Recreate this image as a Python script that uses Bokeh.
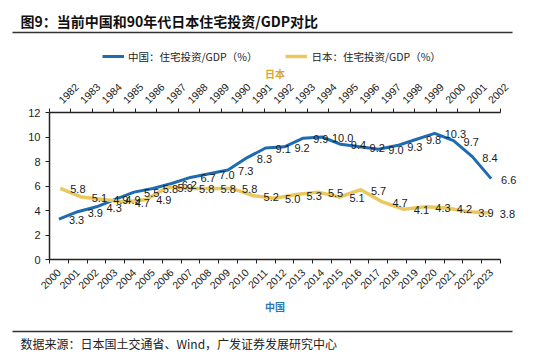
import math
from bokeh.plotting import figure
from bokeh.models import (Range1d, LinearAxis, FixedTicker, ColumnDataSource, Label,
                          LabelSet, BoxAnnotation, Legend, LegendItem)
from bokeh.core.properties import value
from bokeh.embed import file_html
from bokeh.resources import INLINE

# ---- data ----
china_years = [str(y) for y in range(2000, 2024)]
china_vals = [3.3, 3.9, 4.3, 4.9, 5.5, 5.8, 6.2, 6.7, 7.0, 7.3, 8.3, 9.1,
              9.2, 9.9, 10.0, 9.4, 9.2, 9.0, 9.3, 9.8, 10.3, 9.7, 8.4, 6.6]
japan_years = [str(y) for y in range(1982, 2003)]
japan_vals = [5.8, 5.1, 4.9, 4.7, 4.9, 5.9, 5.8, 5.8, 5.8, 5.2, 5.0, 5.3,
              5.5, 5.1, 5.7, 4.7, 4.1, 4.3, 4.2, 3.9, 3.8]
y_ticks = [0, 2, 4, 6, 8, 10, 12]
title_text = "图9：当前中国和90年代日本住宅投资/GDP对比"
china_name = "中国：住宅投资/GDP（%）"
japan_name = "日本：住宅投资/GDP（%）"
source_text = "数据来源：日本国土交通省、Wind，广发证券发展研究中心"

# ---- style ----
BLUE = "#1F6BB0"
GOLD = "#EBC85E"
GOLD_TXT = "#D9A62E"
BLUE_TXT = "#2E75B6"
AX = "#222222"
CJK = "Noto Sans CJK SC"
LAT = "Liberation Sans"

W, H = 550, 355
# plot-area edges in canvas pixels
PL, PR, PT, PB = 49, 500, 112, 259
Y0, Y1 = 0, 12

n_c = len(china_vals)
n_j = len(japan_vals)
cx = list(range(n_c))
jx = list(range(n_j))


def stretch(lo, hi, plo, phi, total):
    """range whose [lo, hi] maps onto pixels [plo, phi] of a canvas 0..total"""
    k = (hi - lo) / (phi - plo)
    return Range1d(lo - plo * k, hi + (total - phi) * k)


x_rng = stretch(-0.5, n_c - 0.5, PL, PR, W)
j_rng = stretch(-0.5, n_j - 0.5, PL, PR, W)
y_rng = stretch(Y0, Y1, H - PB, H - PT, H)

p = figure(width=W, height=H, output_backend="svg", toolbar_location=None,
           x_range=x_rng, y_range=y_rng,
           x_axis_location=None, y_axis_location=None, min_border=0)
p.extra_x_ranges = {"jp": j_rng}
p.outline_line_color = None
p.grid.visible = False
p.background_fill_color = "white"
p.border_fill_color = "white"

# left axis
yax = LinearAxis(ticker=FixedTicker(ticks=y_ticks), fixed_location=-0.5, bounds=(Y0, Y1))
yax.axis_line_color = AX
yax.axis_line_width = 1.5
yax.major_tick_line_color = AX
yax.major_tick_in = 0
yax.major_tick_out = 4
yax.minor_tick_line_color = None
yax.major_label_text_font = LAT
yax.major_label_text_font_size = "11px"
yax.major_label_text_color = AX
yax.major_label_standoff = 5
p.add_layout(yax, "left")


def cat_axis(labels, loc, range_name=None):
    n = len(labels)
    kw = {}
    if range_name:
        kw["x_range_name"] = range_name
    ax = LinearAxis(ticker=FixedTicker(ticks=list(range(n)),
                                       minor_ticks=[i - 0.5 for i in range(n + 1)]),
                    fixed_location=loc, bounds=(-0.5, n - 0.5), **kw)
    ax.major_label_overrides = {i: lab for i, lab in enumerate(labels)}
    ax.axis_line_color = AX
    ax.axis_line_width = 1.5
    ax.major_tick_line_color = None
    ax.minor_tick_line_color = AX
    ax.minor_tick_in = 0
    ax.minor_tick_out = 4
    ax.major_label_orientation = math.pi / 4
    ax.major_label_text_font = LAT
    ax.major_label_text_font_size = "10.5px"
    ax.major_label_text_color = AX
    ax.major_label_standoff = 5
    ax.axis_label_text_font = CJK
    ax.axis_label_text_font_style = "bold"
    ax.axis_label_text_font_size = "10px"
    return ax


bax = cat_axis(china_years, Y0)
bax.axis_label = "中国"
bax.axis_label_text_color = BLUE_TXT
bax.axis_label_standoff = 3
p.add_layout(bax, "below")

tax = cat_axis(japan_years, Y1, "jp")
tax.axis_label = "日本"
tax.axis_label_text_color = GOLD_TXT
tax.axis_label_standoff = -5
p.add_layout(tax, "above")

# lines
cr = p.line(cx, china_vals, line_color=BLUE, line_width=3, line_join="round")
jr = p.line(jx, japan_vals, x_range_name="jp", line_color=GOLD, line_width=3.5,
            line_join="round")

# data labels
csrc = ColumnDataSource(dict(x=cx, y=china_vals, t=[f"{v:.1f}" for v in china_vals]))
jsrc = ColumnDataSource(dict(x=jx, y=japan_vals, t=[f"{v:.1f}" for v in japan_vals]))
for src, rn in ((csrc, None), (jsrc, "jp")):
    kw = {"x_range_name": rn} if rn else {}
    ls = LabelSet(x="x", y="y", text="t", source=src, x_offset=10, y_offset=-1,
                  text_align="left", text_baseline="middle",
                  text_font=value(LAT), text_font_size=value("11px"),
                  text_color="#1a1a1a", **kw)
    p.add_layout(ls)


def sy(cy):
    return H - cy


# legend
legend = Legend(items=[LegendItem(label=china_name, renderers=[cr]),
                       LegendItem(label=japan_name, renderers=[jr])],
                orientation="horizontal", location=(102, sy(66)),
                glyph_width=22, glyph_height=10, label_standoff=4, spacing=28,
                padding=0, margin=0, border_line_color=None,
                background_fill_alpha=0, label_text_font=CJK,
                label_text_font_size="10.5px", label_text_color=AX,
                label_height=20)
p.add_layout(legend)

# title, rules, source
p.add_layout(Label(x=20, y=sy(20), x_units="screen", y_units="screen",
                   text=title_text, text_font=CJK, text_font_size="14px",
                   text_font_style="bold", text_color="#111111",
                   text_baseline="middle", text_align="left"))
p.add_layout(Label(x=20, y=sy(343), x_units="screen", y_units="screen",
                   text=source_text, text_font=CJK, text_font_size="12px",
                   text_color="#222222", text_baseline="middle", text_align="left"))
for ycan in (32, 331):
    p.add_layout(BoxAnnotation(left=12, right=512, top=sy(ycan - 0.8),
                               bottom=sy(ycan + 0.8), left_units="screen",
                               right_units="screen", top_units="screen",
                               bottom_units="screen", fill_color="#333333",
                               fill_alpha=1, line_color=None))

open("out.html", "w").write(file_html(p, INLINE))
